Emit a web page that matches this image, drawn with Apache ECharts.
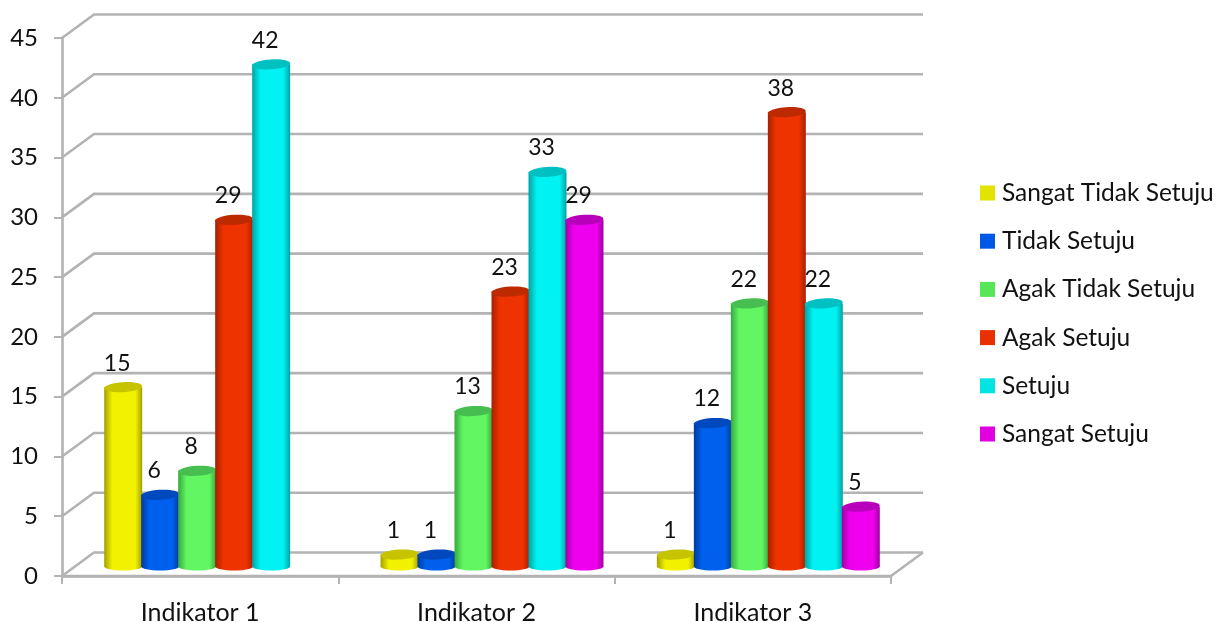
<!DOCTYPE html>
<html>
<head>
<meta charset="utf-8">
<style>html,body{margin:0;padding:0;background:#fff}#chart{width:1216px;height:622px}</style>
<script src="https://cdn.jsdelivr.net/npm/echarts@6/dist/echarts.min.js"></script>
</head>
<body>
<div id="chart"></div>
<script>
const categories = ['Indikator 1', 'Indikator 2', 'Indikator 3'];
const tickValues = [0, 5, 10, 15, 20, 25, 30, 35, 40, 45];

const sangatTidakSetuju = [15, 1, 1];
const tidakSetuju = [6, 1, 12];
const agakTidakSetuju = [8, 13, 22];
const agakSetuju = [29, 23, 38];
const setuju = [42, 33, 22];
const sangatSetuju = [null, 29, 5];

const seriesNames = ['Sangat Tidak Setuju', 'Tidak Setuju', 'Agak Tidak Setuju', 'Agak Setuju', 'Setuju', 'Sangat Setuju'];
const seriesValues = [sangatTidakSetuju, tidakSetuju, agakTidakSetuju, agakSetuju, setuju, sangatSetuju];
// [edge shade, highlight, cap, legend swatch]
const seriesShades = [
  ['#a3a000', '#f2f200', '#c6c400', '#e3e300'],
  ['#003a9c', '#0060ee', '#0048bd', '#0059e6'],
  ['#35a83f', '#62f662', '#46bf50', '#58e658'],
  ['#a82000', '#ee3200', '#bd2a00', '#e83000'],
  ['#00a3a6', '#00f2f2', '#00c0c2', '#00e4e4'],
  ['#a000a3', '#ee00ee', '#b800ba', '#e000e0']
];

const FONT = 'Lato, "Open Sans", sans-serif';
const WALL = '#b3b3b3';
const WALL_DX = 32, WALL_DY = -23.5;   // depth of the 3D box
const COL_DX = 15.5, COL_DY = -9.5;    // columns stand mid-way into the box
const CAP_RY = 5;

function renderWall(params, api) {
  const v = api.value(0);
  const cs = params.coordSys;
  const p = api.coord([0, v]);
  const x0 = cs.x, y = p[1];
  const x1 = cs.x + cs.width;
  const children = [{
    type: 'polyline',
    shape: { points: [[x0, y], [x0 + WALL_DX, y + WALL_DY], [x1 + WALL_DX, y + WALL_DY]] },
    style: { fill: null, stroke: WALL, lineWidth: 2.6 }
  }];
  if (v === 0) {
    children.push({
      type: 'polyline',
      shape: { points: [[x1 + WALL_DX, y + WALL_DY], [x1, y], [x0, y]] },
      style: { fill: null, stroke: WALL, lineWidth: 2.6 }
    });
  }
  return { type: 'group', children };
}

function columnRenderer(index) {
  const shade = seriesShades[index];
  return function (params, api) {
    const cat = api.value(0), val = api.value(1);
    const band = api.size([1, 0])[0];
    const step = band / 7.47;
    const r = step / 2 + 0.5;
    const top = api.coord([cat, val]);
    const base = api.coord([cat, 0]);
    const cx = top[0] + COL_DX + (index - 2.5) * step;
    const yTop = top[1] + COL_DY;
    const yBase = base[1] + COL_DY;
    const body = {
      type: 'linear', x: 0, y: 0, x2: 1, y2: 0,
      colorStops: [
        { offset: 0, color: shade[0] },
        { offset: 0.22, color: shade[1] },
        { offset: 0.82, color: shade[1] },
        { offset: 1, color: shade[0] }
      ]
    };
    return {
      type: 'group',
      children: [
        { type: 'ellipse', shape: { cx, cy: yBase, rx: r, ry: CAP_RY - 1 }, style: { fill: body } },
        { type: 'rect', shape: { x: cx - r, y: yTop, width: r * 2, height: yBase - yTop }, style: { fill: body } },
        {
          type: 'ellipse',
          shape: { cx, cy: yTop, rx: r, ry: CAP_RY },
          rotation: 0.06, originX: cx, originY: yTop,
          style: { fill: shade[2] }
        },
        {
          type: 'text',
          style: {
            text: String(val), x: cx - 6, y: yTop - 24,
            font: '23px ' + FONT, fill: '#111', align: 'center', verticalAlign: 'middle'
          }
        }
      ]
    };
  };
}

const columnSeries = seriesNames.map((name, i) => ({
  name,
  type: 'custom',
  renderItem: columnRenderer(i),
  itemStyle: { color: seriesShades[i][3] },
  encode: { x: 0, y: 1 },
  z: 3,
  clip: false,
  data: seriesValues[i].map((v, c) => [c, v]).filter(d => d[1] !== null)
}));

const chart = echarts.init(document.getElementById('chart'), null, { renderer: 'canvas' });
chart.setOption({
  animation: false,
  backgroundColor: '#fff',
  grid: { left: 62, top: 38, width: 829, height: 538, containLabel: false, outerBoundsMode: 'none' },
  legend: {
    orient: 'vertical',
    left: 980,
    top: 180.5,
    padding: 0,
    icon: 'rect',
    itemWidth: 15,
    itemHeight: 15,
    itemGap: 23.2,
    data: seriesNames,
    selectedMode: false,
    textStyle: { fontFamily: FONT, fontSize: 24.5, color: '#111', padding: [0, 0, 0, 2], height: 24, lineHeight: 24 }
  },
  xAxis: {
    type: 'category',
    data: categories,
    axisLine: { lineStyle: { color: WALL, width: 2.6 } },
    axisTick: { show: true, length: 8, lineStyle: { color: WALL, width: 2 } },
    axisLabel: { fontFamily: FONT, fontSize: 25, color: '#111', margin: 24 },
    splitLine: { show: false }
  },
  yAxis: {
    type: 'value',
    min: 0,
    max: 45,
    interval: 5,
    axisLine: { show: true, lineStyle: { color: WALL, width: 2.6 } },
    axisTick: { show: true, length: 8, lineStyle: { color: WALL, width: 2 } },
    axisLabel: { fontFamily: FONT, fontSize: 24, color: '#111', margin: 24, padding: [6, 0, 0, 0] },
    splitLine: { show: false }
  },
  series: [{
    type: 'custom',
    renderItem: renderWall,
    encode: { y: 0 },
    silent: true,
    z: 1,
    clip: false,
    data: tickValues.map(v => [v])
  }].concat(columnSeries)
});
</script>
</body>
</html>
